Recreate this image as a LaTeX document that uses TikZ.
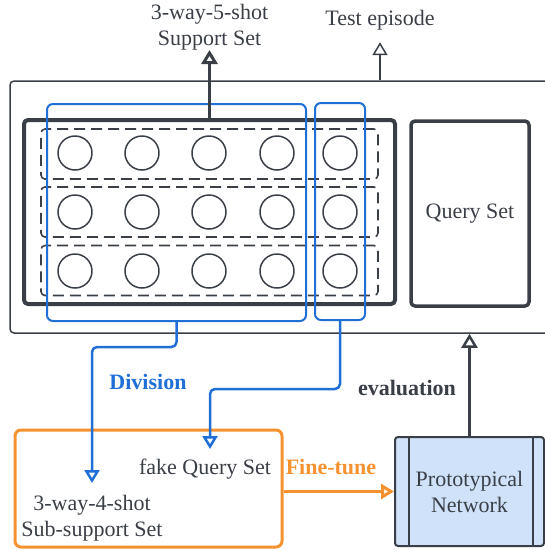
\documentclass[tikz,border=0pt]{standalone}
\usepackage{fontspec}
\setmainfont{Liberation Serif}
\usetikzlibrary{arrows.meta}
\definecolor{ink}{HTML}{3A3F47}
\definecolor{divblue}{HTML}{1F6FD6}
\definecolor{tuneorange}{HTML}{F5922F}
\definecolor{protofill}{HTML}{CFE2F9}

\begin{document}
\begin{tikzpicture}[x=1pt, y=-1pt, line join=round,
  box/.style={draw=ink, rounded corners=4pt, inner sep=0pt},
  split/.style={draw=divblue, line width=2pt, rounded corners=6pt, inner sep=0pt},
  lbl/.style={text=ink, font=\fontsize{22}{26}\selectfont, align=center, inner sep=0pt},
  tip/.style={-{Triangle[open, width=15pt, length=13pt]}}]
\clip (0,0) rectangle (545,550);
% test episode and its two sets
\draw (287.5,207) node[box, line width=1.5pt, minimum width=555pt, minimum height=252pt](epi){}
    (209.5,212) node[box, line width=4pt, minimum width=371pt, minimum height=184pt](sup){}
    (470,213.5) node[box, line width=3.5pt, minimum width=118pt, minimum height=185pt, lbl](qry){Query Set};
\foreach \r/\y in {1/154, 2/212, 3/270.5}
  \draw (209.5,\y) node[box, dash pattern=on 11pt off 6pt, line width=1.6pt, minimum width=337pt, minimum height=50pt](row\r){};
\foreach \r/\y in {1/153, 2/212, 3/271}
  \foreach \c/\x in {1/75, 2/142, 3/209, 4/277, 5/340}
    \draw (\x,\y) node[circle, draw=ink, line width=1.5pt, minimum size=34pt, inner sep=0pt](s\r\c){};
% division into sub-support set and fake query set
\draw (176.5,212.5) node[split, minimum width=259pt, minimum height=217pt](sub){}
    (340,211.5) node[split, minimum width=50pt, minimum height=217pt](fq){};
\draw (209.5,50) node[lbl, anchor=south](suplab){3-way-5-shot\\Support Set}
    (380,20) node[lbl](testlab){Test episode};
\draw [ink, line width=3pt, -{Triangle[open, width=16pt, length=14pt]}] (sup.north) -- (suplab.south) ;
\draw [tip, ink, line width=1.5pt, shorten >=12pt] (testlab.south |- epi.north) -- (testlab.south);
% fine-tuning part
\draw (148.5,488.5) node[draw=tuneorange, line width=3pt, rounded corners=6pt, minimum width=267pt, minimum height=117pt](tune){}
    (469.5,491.5) node[draw=ink, fill=protofill, line width=2pt, rounded corners=3pt, minimum width=149pt, minimum height=109pt, lbl](proto){Prototypical\\Network};
\draw [ink, line width=2pt] ([xshift=15pt]proto.north west) -- ([xshift=15pt]proto.south west);
\draw [ink, line width=2pt] ([xshift=-12pt]proto.north east) -- ([xshift=-12pt]proto.south east);
\coordinate (subtip) at (92,483);
\coordinate (fqtip) at (210,449);
\draw [tip, divblue, line width=2.5pt, rounded corners=5pt] (sub.south) -- ++(0,25) -| (subtip);
\draw [tip, divblue, line width=2.5pt, rounded corners=5pt] (fq.south) -- ++(0,68) -| (fqtip);
\draw [tip, tuneorange, line width=3pt] (proto.west -| tune.east) -- (proto.west);
\draw [ink, line width=2.5pt, -{Triangle[open, width=16pt, length=14pt]}] (proto.north) -- (proto.north |- epi.south);
\draw (148,382) node[lbl, text=divblue, font=\fontsize{22}{26}\selectfont\bfseries](divlab){Division}
    (407,388) node[lbl, font=\fontsize{22}{26}\selectfont\bfseries](evallab){evaluation}
    (331,467) node[lbl, text=tuneorange, font=\fontsize{22}{26}\selectfont\bfseries](ftlab){Fine-tune}
    (205,469) node[lbl](fqlab){fake Query Set}
    (92,518) node[lbl](sublab){3-way-4-shot\\Sub-support Set};
\end{tikzpicture}
\end{document}
